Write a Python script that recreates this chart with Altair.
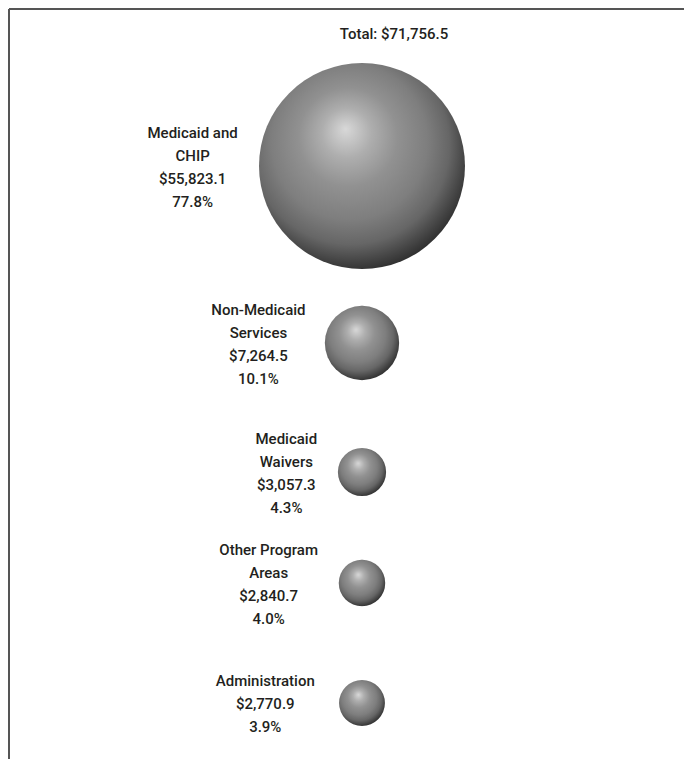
import altair as alt
import pandas as pd

# ---- data ----
categories = [
    "Medicaid and\nCHIP",
    "Non-Medicaid\nServices",
    "Medicaid\nWaivers",
    "Other Program\nAreas",
    "Administration",
]
values = [55823.1, 7264.5, 3057.3, 2840.7, 2770.9]

df = pd.DataFrame({"name": categories, "value": values})

# ---- layout / style ----
W, H = 675, 750
CX = 353                       # sphere centre x (px)
RMAX = 103                     # radius of largest sphere (px)
ROW_Y = [157, 334, 463, 574, 694]
GAP = 22
CHARW = 7.4
LH = 23
FONT = "Roboto"
FSIZE = 15
FWEIGHT = 500
TXT = "#231f20"

sphere_fill = alt.RadialGradient(
    gradient="radial",
    stops=[
        alt.GradientStop(color="#d8d8d8", offset=0),
        alt.GradientStop(color="#aeaeae", offset=0.2),
        alt.GradientStop(color="#919191", offset=0.4),
        alt.GradientStop(color="#7e7e7e", offset=0.63),
        alt.GradientStop(color="#666666", offset=0.8),
        alt.GradientStop(color="#444444", offset=0.92),
        alt.GradientStop(color="#2e2e2e", offset=1),
    ],
    x1=0.42, y1=0.32, r1=0,
    x2=0.45, y2=0.42, r2=0.6,
)

yenc = alt.Y("row:Q", scale=alt.Scale(domain=[0, 1, 2, 3, 4], range=ROW_Y), axis=None)

base = (
    alt.Chart(df)
    .transform_window(rn="row_number()")
    .transform_calculate(row="datum.rn - 1")
    .transform_joinaggregate(total="sum(value)", vmax="max(value)")
    .transform_calculate(
        pct="datum.value / datum.total * 100",
        vs="'$' + format(datum.value, ',.1f')",
    )
    .transform_calculate(
        ps="format(datum.pct, '.1f') + '%'",
        nl="indexof(datum.name, '\\n')",
    )
    .transform_calculate(
        l1="datum.nl >= 0 ? datum.nl : length(datum.name)",
        l2="datum.nl >= 0 ? length(datum.name) - datum.nl - 1 : 0",
        label="datum.name + '\\n' + datum.vs + '\\n' + datum.ps",
    )
    .transform_calculate(
        lx=f"{CX} - {RMAX} * sqrt(datum.value / datum.vmax) - {GAP} - "
           f"max(datum.l1, datum.l2, length(datum.vs), length(datum.ps)) * {CHARW} / 2",
    )
)

spheres = base.mark_circle(fill=sphere_fill, opacity=1, fillOpacity=1).encode(
    x=alt.value(CX),
    y=yenc,
    size=alt.Size(
        "value:Q",
        scale=alt.Scale(domain=[0, max(values)], range=[0, (2 * RMAX) ** 2]),
        legend=None,
    ),
)


def label_layer(four_lines):
    n = 4 if four_lines else 3
    cond = "datum.nl >= 0" if four_lines else "datum.nl < 0"
    return base.transform_filter(cond).mark_text(
        align="center", baseline="middle", lineBreak="\n", lineHeight=LH,
        dy=-(n - 1) * LH / 2 + 1,
        font=FONT, fontSize=FSIZE, fontWeight=FWEIGHT, color=TXT,
    ).encode(
        x=alt.X("lx:Q", scale=None, axis=None),
        y=yenc,
        text="label:N",
    )


total = (
    alt.Chart(df)
    .transform_aggregate(total="sum(value)")
    .transform_calculate(t="'Total: $' + format(datum.total, ',.1f')")
    .mark_text(align="center", baseline="middle", font=FONT, fontSize=FSIZE,
               fontWeight=FWEIGHT, color=TXT)
    .encode(x=alt.value(385), y=alt.value(25), text="t:N")
)

frame_data = alt.Data(values=[{"k": 1}])
top_line = alt.Chart(frame_data).mark_rule(color="#555", strokeWidth=2).encode(
    x=alt.value(0), x2=alt.value(W), y=alt.value(0)
)
left_line = alt.Chart(frame_data).mark_rule(color="#555", strokeWidth=2).encode(
    x=alt.value(0), y=alt.value(0), y2=alt.value(H)
)

chart = (
    alt.layer(top_line, left_line, spheres, label_layer(True), label_layer(False), total)
    .properties(
        width=W, height=H,
        autosize=alt.AutoSizeParams(type="none"),
        padding={"left": 1, "top": 1, "right": 0, "bottom": 0},
    )
    .configure_view(stroke=None)
)

chart.save("out.html", embed_options={"renderer": "svg", "actions": False})
